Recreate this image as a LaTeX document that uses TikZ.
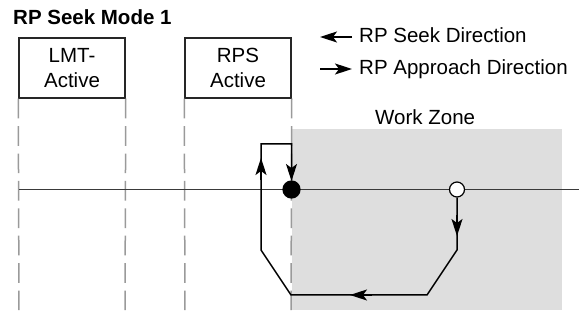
\documentclass[tikz,border=0pt]{standalone}
\usepackage{fontspec}
\setmainfont{Liberation Sans}
\usetikzlibrary{arrows.meta}
\definecolor{zonegray}{HTML}{DEDEDE}
\definecolor{dashgray}{HTML}{9A9A9A}
\definecolor{axisgray}{HTML}{3A3A3A}
\tikzset{
  lbl/.style={inner sep=0pt, font=\fontsize{20.5}{25}\selectfont},
  statebox/.style={draw=black!85, line width=1.5pt, minimum width=106pt, minimum height=60pt,
     inner sep=0pt, align=center, font=\fontsize{20.5}{25}\selectfont},
  guide/.style={draw=dashgray, line width=1.5pt, dash pattern=on 19.7pt off 7.7pt},
  axis/.style={draw=axisgray, line width=1.8pt},
  track/.style={draw=black, line width=1.5pt},
  tip/.style={-{Stealth[length=17pt,width=11pt,inset=4pt]}, line width=1.5pt},
}
\begin{document}
\begin{tikzpicture}[x=1pt,y=-1pt]
\useasboundingbox (0,0) rectangle (579,336);
\fill[white] (0,0) rectangle (579,336);
% work zone
\fill[zonegray] (292,129) rectangle (562,310);
\node[lbl, anchor=base west] (wz) at (375,125) {Work Zone};
% title
\node[lbl, anchor=base west, font=\fontsize{20.5}{25}\selectfont\bfseries] (title) at (13,25) {RP Seek Mode 1};
% state boxes
\node[statebox] (lmt) at (72,68) {LMT-\\Active};
\node[statebox] (rps) at (238,68) {RPS\\Active};
% guide lines
\coordinate (g1) at (19,311);
\coordinate (g2) at (125,311);
\coordinate (g3) at (185,311);
\coordinate (g4) at (291,311);
\draw[guide] (lmt.south west) -- (g1);
\draw[guide] (lmt.south east) -- (g2);
\draw[guide] (rps.south west) -- (g3);
\draw[guide] (rps.south east) -- (g4);
% axis
\coordinate (axL) at (19,189.5);
\coordinate (axR) at (579,189.5);
\draw[axis] (axL) -- (axR);
% positions
\node[circle, draw=black, fill=black, line width=1.2pt, minimum size=17pt, inner sep=0pt] (rp) at (291.5,189.5) {};
\node[circle, draw=black, fill=white, line width=1.2pt, minimum size=15pt, inner sep=0pt] (start) at (457,189.5) {};
% track
\coordinate (p1) at (457,250);
\coordinate (p2) at (427,295);
\coordinate (p3) at (291,295);
\coordinate (p4) at (261,250);
\coordinate (p5) at (261,144);
\coordinate (p6) at (291.5,144);
\draw[track, line join=miter] (start.south) -- (p1) -- (p2) -- (p3) -- (p4) -- (p5) -- (p6) -- (rp.north);
% direction tips
\coordinate (a1s) at (457,215); \coordinate (a1e) at (457,236);
\coordinate (a2s) at (372,295); \coordinate (a2e) at (350,295);
\coordinate (a3s) at (261,180); \coordinate (a3e) at (261,158);
\coordinate (a4s) at (291.5,160); \coordinate (a4e) at (291.5,181);
\draw[tip] (a1s) -- (a1e);
\draw[tip] (a2s) -- (a2e);
\draw[tip] (a3s) -- (a3e);
\draw[tip] (a4s) -- (a4e);
% legend
\coordinate (l1a) at (352,37); \coordinate (l1b) at (320,37);
\coordinate (l2a) at (320,69); \coordinate (l2b) at (352,69);
\draw[tip] (l1a) -- (l1b);
\draw[tip] (l2a) -- (l2b);
\node[lbl, anchor=base west] (seek) at (359,43) {RP Seek Direction};
\node[lbl, anchor=base west] (appr) at (359,75) {RP Approach Direction};
\end{tikzpicture}
\end{document}
